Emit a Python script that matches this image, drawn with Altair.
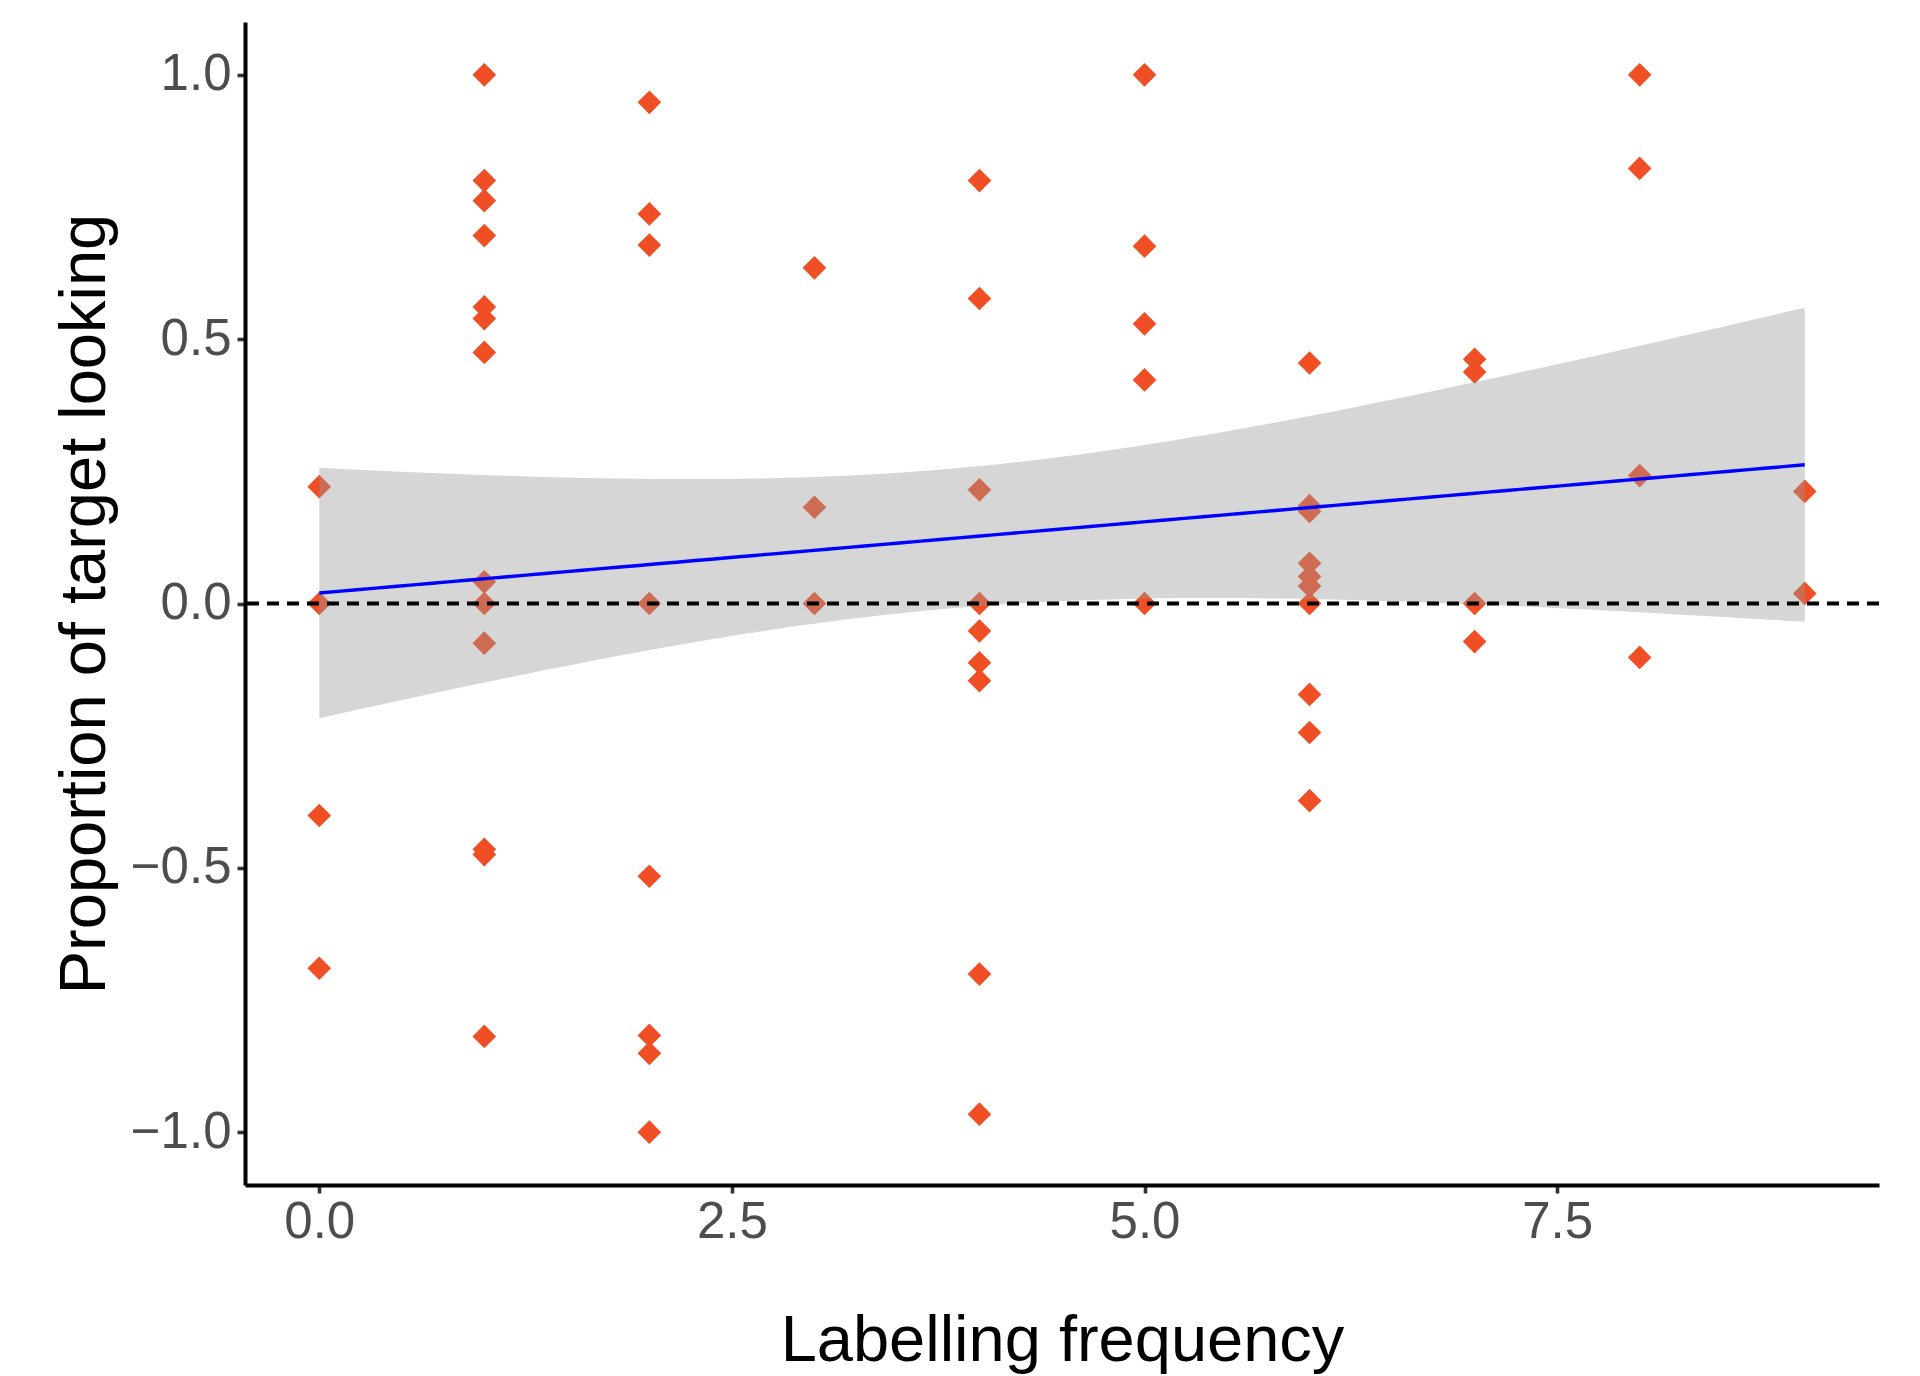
import altair as alt
import numpy as np
import pandas as pd

# Labelling frequency (x) and proportion of target looking (y), read per column
freq_values = (
    [0] * 4 + [1] * 13 + [2] * 8 + [3] * 3 + [4] * 9
    + [5] * 5 + [6] * 10 + [7] * 4 + [8] * 4 + [9] * 2
)
prop_f0 = [0.221, 0.0, -0.401, -0.690]
prop_f1 = [1.0, 0.80, 0.762, 0.696, 0.561, 0.539, 0.475, 0.041, 0.0, -0.075, -0.465, -0.475, -0.819]
prop_f2 = [0.948, 0.737, 0.678, 0.0, -0.516, -0.817, -0.851, -1.0]
prop_f3 = [0.635, 0.182, 0.0]
prop_f4 = [0.80, 0.577, 0.215, 0.0, -0.052, -0.112, -0.146, -0.701, -0.966]
prop_f5 = [1.0, 0.676, 0.529, 0.423, 0.0]
prop_f6 = [0.455, 0.185, 0.174, 0.076, 0.051, 0.033, 0.0, -0.172, -0.244, -0.373]
prop_f7 = [0.462, 0.438, 0.0, -0.072]
prop_f8 = [1.0, 0.823, 0.242, -0.102]
prop_f9 = [0.212, 0.019]
prop_values = (prop_f0 + prop_f1 + prop_f2 + prop_f3 + prop_f4
               + prop_f5 + prop_f6 + prop_f7 + prop_f8 + prop_f9)

x_ticks = [0.0, 2.5, 5.0, 7.5]
y_ticks = [-1.0, -0.5, 0.0, 0.5, 1.0]
x_title = "Labelling frequency"
y_title = "Proportion of target looking"

points = pd.DataFrame({"freq": freq_values, "prop": prop_values})

# linear model fit with 95% confidence band (as geom_smooth(method="lm"))
x = np.array(freq_values, dtype=float)
y = np.array(prop_values, dtype=float)
n = len(x)
slope, intercept = np.polyfit(x, y, 1)
resid = y - (intercept + slope * x)
s = np.sqrt(np.sum(resid ** 2) / (n - 2))
xm = x.mean()
sxx = np.sum((x - xm) ** 2)
grid = np.linspace(x.min(), x.max(), 80)
fit = intercept + slope * grid
se = s * np.sqrt(1.0 / n + (grid - xm) ** 2 / sxx)
t_crit = 2.0003  # t(0.975, df=60)
band = pd.DataFrame({"freq": grid, "fit": fit,
                     "lo": fit - t_crit * se, "hi": fit + t_crit * se})

x_scale = alt.Scale(domain=[-0.45, 9.45], nice=False, zero=False)
y_scale = alt.Scale(domain=[-1.1, 1.1], nice=False, zero=False)

axis_style = dict(
    grid=False,
    domainColor="black",
    domainWidth=4,
    tickColor="#333333",
    tickWidth=3.6,
    tickSize=8,
    labelFont="Liberation Sans",
    labelFontSize=51,
    labelColor="#4D4D4D",
    titleFont="Liberation Sans",
    titleFontSize=65,
    titleFontWeight="normal",
    titleColor="black",
)

x_axis = alt.Axis(values=x_ticks, format=".1f", title=x_title,
                  labelPadding=4, titlePadding=62, **axis_style)
y_axis = alt.Axis(values=y_ticks, format=".1f", title=y_title,
                  labelPadding=6, titlePadding=12, **axis_style)

pts = alt.Chart(points).mark_point(
    shape="diamond", filled=True, size=560, color="#F04E25", opacity=1
).encode(
    x=alt.X("freq:Q", scale=x_scale, axis=x_axis),
    y=alt.Y("prop:Q", scale=y_scale, axis=y_axis),
)

ribbon = alt.Chart(band).mark_area(color="#999999", opacity=0.4).encode(
    x=alt.X("freq:Q", scale=x_scale),
    y=alt.Y("lo:Q", scale=y_scale),
    y2="hi:Q",
)

line = alt.Chart(band).mark_line(color="#0000FF", strokeWidth=3.4).encode(
    x=alt.X("freq:Q", scale=x_scale),
    y=alt.Y("fit:Q", scale=y_scale),
)

zero_rule = alt.Chart(pd.DataFrame({"v": [0.0]})).mark_rule(
    color="black", strokeWidth=4, strokeDash=[12, 8]
).encode(y=alt.Y("v:Q", scale=y_scale))

chart = alt.layer(pts, ribbon, line, zero_rule).properties(
    width=1634,
    height=1163,
    autosize=alt.AutoSizeParams(type="none"),
    padding={"left": 237, "top": 14, "right": 33, "bottom": 200},
    background="white",
).configure_view(stroke=None)

chart.save("out.html", embed_options={"renderer": "svg", "actions": False})
